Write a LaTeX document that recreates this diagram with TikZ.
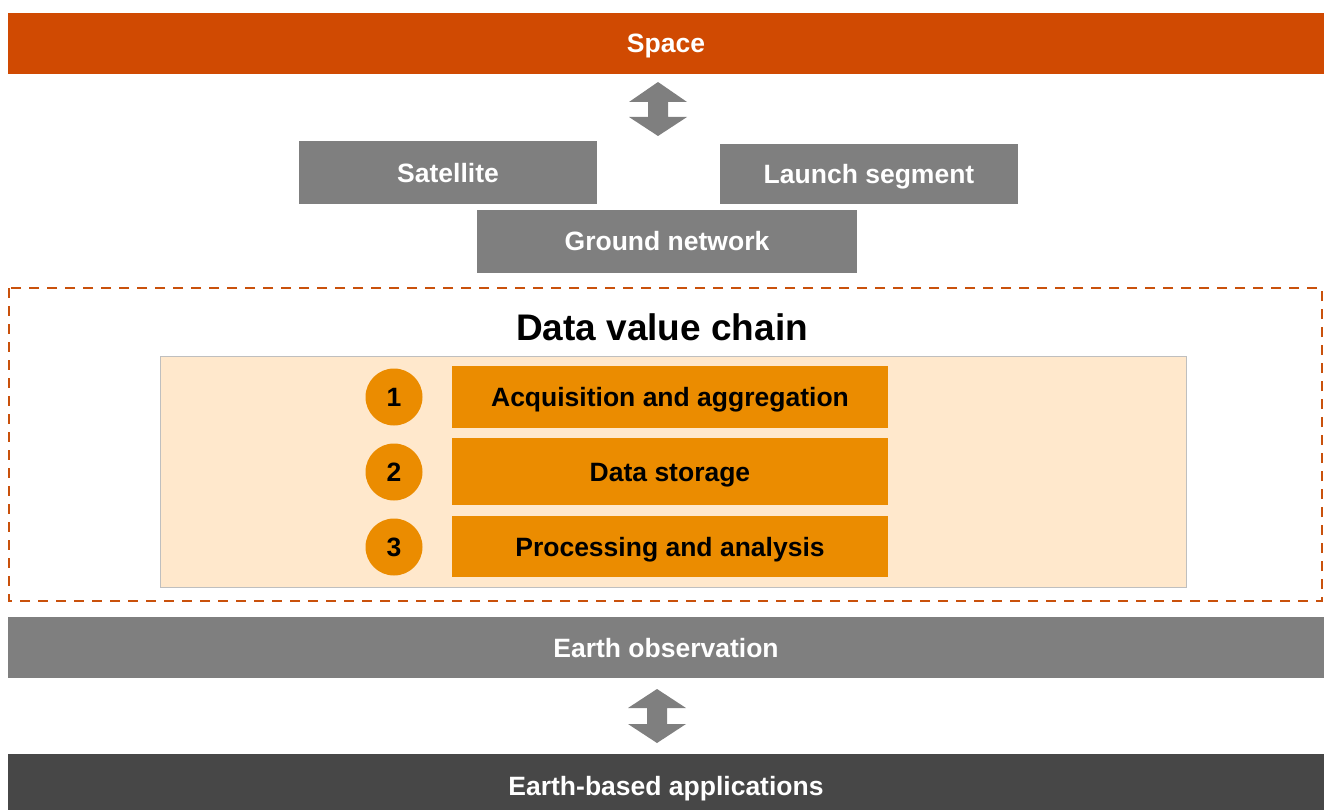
\documentclass[tikz,border=0pt]{standalone}
\usepackage{fontspec}
\setmainfont{Liberation Sans}
\begin{document}
\definecolor{spaceorange}{HTML}{D04A02}
\definecolor{midgray}{HTML}{7F7F7F}
\definecolor{darkgray}{HTML}{474747}
\definecolor{chainorange}{HTML}{EB8C00}
\definecolor{panelfill}{HTML}{FFE8CC}
\definecolor{dashorange}{HTML}{C9510C}
\begin{tikzpicture}[x=1pt,y=-1pt,
  label font/.style={font=\bfseries\fontsize{26.5}{30}\selectfont, text height=19pt, text depth=0pt},
  bar/.style={rectangle, inner sep=0pt, text=white, label font},
  graybox/.style={rectangle, inner sep=0pt, fill=midgray, text=white, label font},
  stepbox/.style={rectangle, inner sep=0pt, fill=chainorange, text=black, minimum width=436pt, label font},
  numdot/.style={circle, inner sep=0pt, minimum size=57pt, fill=chainorange, text=black, label font},
  twoway/.style={fill=midgray}]
\useasboundingbox (0,0) rectangle (1324,810);

% top and bottom bands (the lowest one runs past the page edge)
\node[bar, fill=spaceorange, minimum width=1316pt, minimum height=61pt] (space) at (666,43.5) {Space};
\node[bar, fill=midgray, minimum width=1316pt, minimum height=61pt] (eo) at (666,647.5) {Earth observation};
\node[bar, fill=darkgray, minimum width=1316pt, minimum height=64pt] (apps) at (666,786) {Earth-based applications};

% segment boxes
\node[graybox, minimum width=298pt, minimum height=63pt] (sat) at (448,173) {Satellite};
\node[graybox, minimum width=298pt, minimum height=60pt] (launch) at (869,174) {Launch segment};
\node[graybox, minimum width=380pt, minimum height=62pt] (ground) at (667,241.5) {Ground network};

% two-way arrows
\coordinate (a1) at (658,109);
\fill[twoway] ([shift={(0,-27)}]a1) -- ([shift={(29,-7)}]a1) -- ([shift={(10,-7)}]a1) -- ([shift={(10,8)}]a1)
  -- ([shift={(29,8)}]a1) -- ([shift={(0,27)}]a1) -- ([shift={(-29,8)}]a1) -- ([shift={(-10,8)}]a1)
  -- ([shift={(-10,-7)}]a1) -- ([shift={(-29,-7)}]a1) -- cycle;
\coordinate (a2) at (657,716);
\fill[twoway] ([shift={(0,-27)}]a2) -- ([shift={(29,-8)}]a2) -- ([shift={(10,-8)}]a2) -- ([shift={(10,8)}]a2)
  -- ([shift={(29,8)}]a2) -- ([shift={(0,27)}]a2) -- ([shift={(-29,8)}]a2) -- ([shift={(-10,8)}]a2)
  -- ([shift={(-10,-8)}]a2) -- ([shift={(-29,-8)}]a2) -- cycle;

% data value chain frame
\draw[dashorange, line width=2.6pt, dash pattern=on 10pt off 8pt] (9,288) rectangle (1322,601);
\node[font=\bfseries\fontsize{37}{42}\selectfont, text height=26.6pt, text depth=0pt, inner sep=0pt] (title) at (662,327) {Data value chain};
\fill[panelfill, draw=black!25, line width=0.8pt] (160,356.5) rectangle (1186,587);

% chain steps
\node[numdot] (n1) at (394,397) {1};
\node[numdot] (n2) at (394,472) {2};
\node[numdot] (n3) at (394,547) {3};
\node[stepbox, minimum height=62pt] (s1) at (670,397) {Acquisition and aggregation};
\node[stepbox, minimum height=67pt] (s2) at (670,471.5) {Data storage};
\node[stepbox, minimum height=61pt] (s3) at (670,546.5) {Processing and analysis};
\end{tikzpicture}
\end{document}
